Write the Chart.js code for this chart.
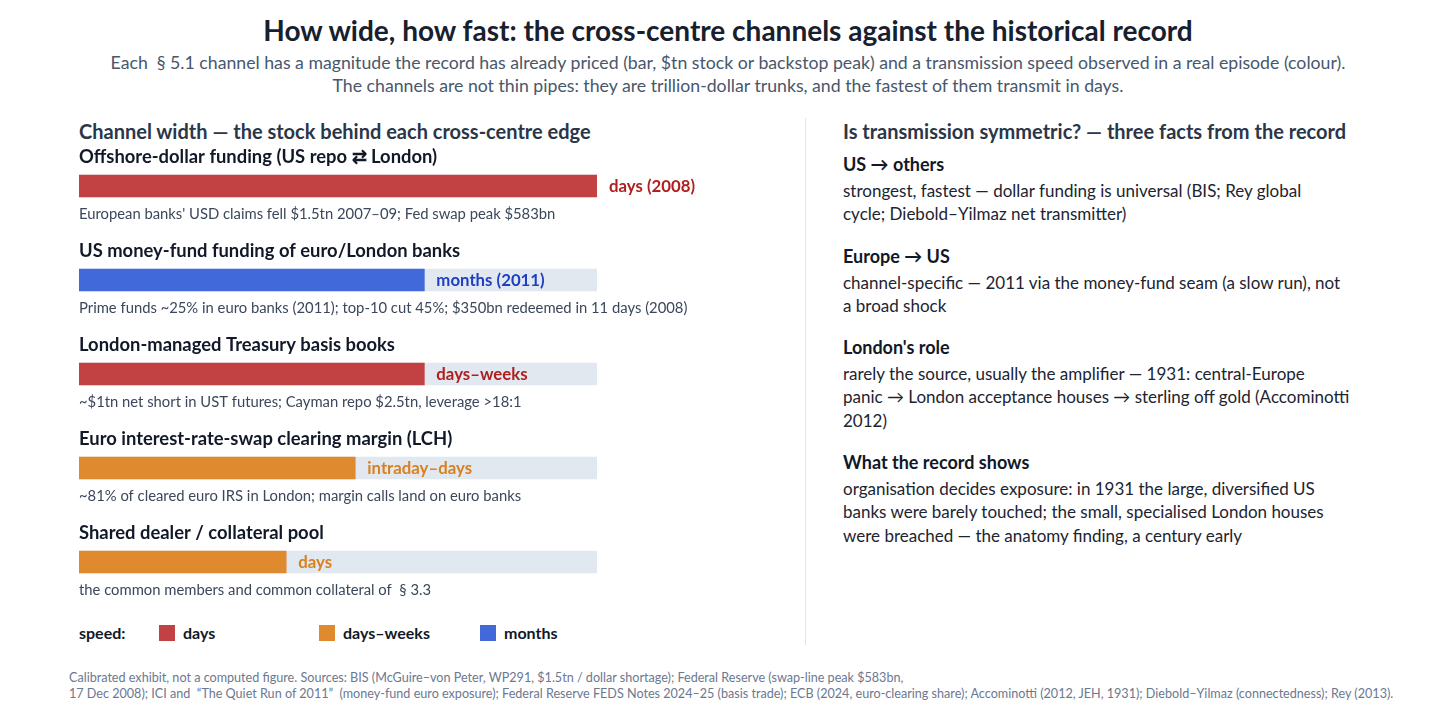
<!DOCTYPE html>
<html>
<head>
<meta charset="utf-8">
<script src="https://cdn.jsdelivr.net/npm/chart.js@4/dist/chart.umd.min.js"></script>
<style>
  body { margin: 0; background: #fff; font-family: Lato, "Noto Sans", sans-serif; }
  #page { position: relative; width: 1456px; height: 716px; overflow: hidden; }
  .abs { position: absolute; white-space: nowrap; }
  #title { left: 0; width: 1456px; top: 12px; text-align: center; font-size: 28px; font-weight: 700; color: #17202e; line-height: 36px; }
  #sub { left: 0; width: 1456px; top: 51px; text-align: center; font-size: 17.7px; color: #48576c; line-height: 23px; }
  .panelHead { font-size: 20px; font-weight: 700; color: #2b3648; line-height: 26px; top: 118px; }
  #divider { left: 805px; top: 118px; width: 1px; height: 527px; background: #dfe5ec; }
  #chartBox { left: 60px; top: 139px; width: 740px; height: 470px; }
  #legend { left: 79px; top: 621px; height: 24px; font-size: 16px; font-weight: 700; color: #111827; line-height: 24px; }
  #legend span { position: absolute; top: 0; }
  #legend i { position: absolute; top: 4px; width: 16px; height: 16px; }
  #facts { left: 843px; top: 151px; width: 560px; white-space: normal; }
  .fact h4 { margin: 0; font-size: 18px; font-weight: 700; color: #111827; line-height: 26px; }
  .fact p { margin: 2px 0 17px 0; font-size: 17px; color: #1c2431; line-height: 23.3px; }
  #foot { left: 69px; top: 670px; font-size: 12.6px; color: #6b7891; line-height: 16px; }
</style>
</head>
<body>
<div id="page">
  <div class="abs" id="title">How wide, how fast: the cross-centre channels against the historical record</div>
  <div class="abs" id="sub">Each &nbsp;§ 5.1 channel has a magnitude the record has already priced (bar, $tn stock or backstop peak) and a transmission speed observed in a real episode (colour).<br>The channels are not thin pipes: they are trillion-dollar trunks, and the fastest of them transmit in days.</div>

  <div class="abs panelHead" style="left:79px">Channel width — the stock behind each cross-centre edge</div>
  <div class="abs" id="chartBox"><canvas id="canvasCanais"></canvas></div>
  <div class="abs" id="legend"></div>

  <div class="abs" id="divider"></div>
  <div class="abs panelHead" style="left:843px">Is transmission symmetric? — three facts from the record</div>
  <div class="abs" id="facts"></div>

  <div class="abs" id="foot">Calibrated exhibit, not a computed figure. Sources: BIS (McGuire–von Peter, WP291, $1.5tn / dollar shortage); Federal Reserve (swap-line peak $583bn,<br>17 Dec 2008); ICI and &nbsp;“The Quiet Run of 2011” &nbsp;(money-fund euro exposure); Federal Reserve FEDS Notes 2024–25 (basis trade); ECB (2024, euro-clearing share); Accominotti (2012, JEH, 1931); Diebold–Yilmaz (connectedness); Rey (2013).</div>
</div>

<script>
// dados do painel esquerdo
const canais = [
    'Offshore-dollar funding (US repo ⇄ London)',
    'US money-fund funding of euro/London banks',
    'London-managed Treasury basis books',
    'Euro interest-rate-swap clearing margin (LCH)',
    'Shared dealer / collateral pool'
];
const larguraTn = [1.5, 1.0, 1.0, 0.8, 0.6];
const escalaMax = [1.5, 1.5, 1.5, 1.5, 1.5];
const velocidade = ['days (2008)', 'months (2011)', 'days–weeks', 'intraday–days', 'days'];
const classeVelocidade = ['days', 'months', 'days', 'weeks', 'weeks'];
const notas = [
    "European banks' USD claims fell $1.5tn 2007–09; Fed swap peak $583bn",
    'Prime funds ~25% in euro banks (2011); top-10 cut 45%; $350bn redeemed in 11 days (2008)',
    '~$1tn net short in UST futures; Cayman repo $2.5tn, leverage >18:1',
    '~81% of cleared euro IRS in London; margin calls land on euro banks',
    'the common members and common collateral of \u00a0§ 3.3'
];

// legenda
const legendaNomes = ['days', 'days–weeks', 'months'];
const legendaClasses = ['days', 'weeks', 'months'];

// painel direito
const fatosTitulos = ['US → others', 'Europe → US', "London's role", 'What the record shows'];
const fatosTextos = [
    ['strongest, fastest — dollar funding is universal (BIS; Rey global', 'cycle; Diebold–Yilmaz net transmitter)'],
    ['channel-specific — 2011 via the money-fund seam (a slow run), not', 'a broad shock'],
    ['rarely the source, usually the amplifier — 1931: central-Europe', 'panic → London acceptance houses → sterling off gold (Accominotti', '2012)'],
    ['organisation decides exposure: in 1931 the large, diversified US', 'banks were barely touched; the small, specialised London houses', 'were breached — the anatomy finding, a century early']
];

const corBarra = { days: '#c24142', weeks: '#df8a2f', months: '#4169da' };
const corTexto = { days: '#b01e1e', weeks: '#d9801f', months: '#1f3fc0' };

let legenda = document.getElementById('legend');
let htmlLeg = '<span style="left:0">speed:</span>';
let xLeg = [80, 240, 401];
for (let i = 0; i < legendaNomes.length; i++) {
    htmlLeg += '<i style="left:' + xLeg[i] + 'px;background:' + corBarra[legendaClasses[i]] + '"></i>';
    htmlLeg += '<span style="left:' + (xLeg[i] + 24) + 'px">' + legendaNomes[i] + '</span>';
}
legenda.innerHTML = htmlLeg;

let fatos = document.getElementById('facts');
let htmlFatos = '';
for (let i = 0; i < fatosTitulos.length; i++) {
    htmlFatos += '<div class="fact"><h4>' + fatosTitulos[i] + '</h4><p>' + fatosTextos[i].join('<br>') + '</p></div>';
}
fatos.innerHTML = htmlFatos;

// plugin p/ nomes, notas e rótulos de velocidade
const textosCanais = {
    id: 'textosCanais',
    afterDatasetsDraw(chart) {
        const ctx = chart.ctx;
        const barras = chart.getDatasetMeta(1).data;
        ctx.save();
        ctx.textBaseline = 'middle';
        ctx.textAlign = 'left';
        barras.forEach(function (barra, i) {
            const esquerda = chart.scales.x.getPixelForValue(0);
            ctx.font = '700 18.4px Lato, "Noto Sans", sans-serif';
            ctx.fillStyle = '#111827';
            ctx.fillText(canais[i], esquerda, barra.y - 29);

            ctx.font = '14.8px Lato, "Noto Sans", sans-serif';
            ctx.fillStyle = '#3b475a';
            ctx.fillText(notas[i], esquerda, barra.y + 28);

            ctx.font = '700 16.8px Lato, "Noto Sans", sans-serif';
            ctx.fillStyle = corTexto[classeVelocidade[i]];
            ctx.fillText(velocidade[i], barra.x + 12, barra.y + 1);
        });
        ctx.restore();
    }
};

let grafCanais = document.getElementById('canvasCanais').getContext('2d');
let chart = new Chart(grafCanais, {
    type: 'bar',
    data: {
        labels: canais,
        datasets: [{
            label: 'escala',
            data: escalaMax,
            backgroundColor: '#e2e8f0',
            order: 2
        }, {
            label: 'Channel width ($tn)',
            data: larguraTn,
            backgroundColor: classeVelocidade.map(function (c) { return corBarra[c]; }),
            order: 1
        }]
    },
    options: {
        indexAxis: 'y',
        responsive: true,
        maintainAspectRatio: false,
        animation: false,
        datasets: { bar: { grouped: false, barThickness: 22, borderWidth: 0 } },
        layout: { padding: { left: 19, right: 203, top: 0, bottom: 0 } },
        scales: {
            x: { display: false, min: 0, max: 1.5 },
            y: { display: false }
        },
        plugins: {
            legend: { display: false },
            tooltip: { enabled: false }
        }
    },
    plugins: [textosCanais]
});
</script>
</body>
</html>
